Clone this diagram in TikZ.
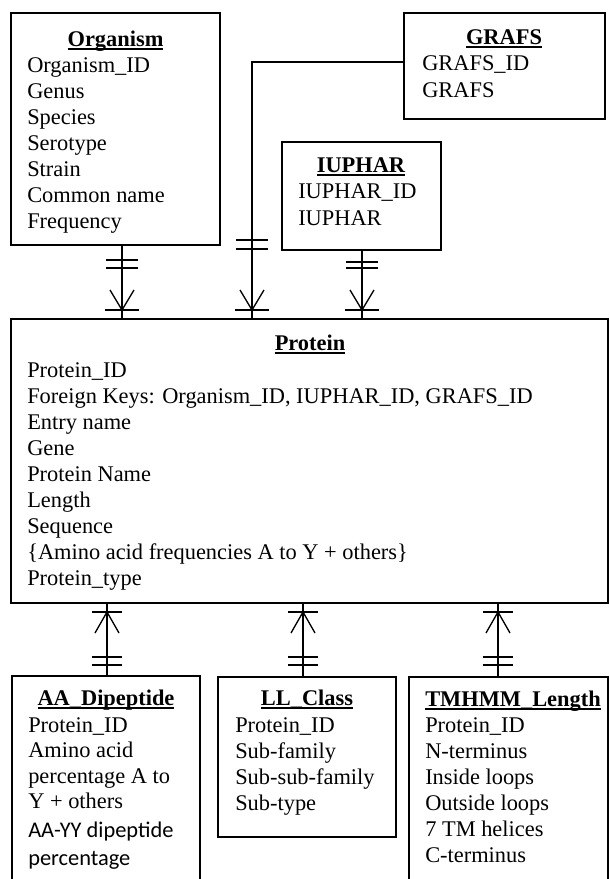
\documentclass[tikz,border=0pt]{standalone}
\usepackage{fontspec}
\setmainfont{Liberation Serif}
\newfontfamily\calibrifont{Carlito}
\usetikzlibrary{fit}
\newcommand{\ulbox}[1]{\setbox0\hbox{#1}\rlap{\vrule height -1.7pt depth 2.8pt width \wd0}\box0}
\newcommand{\topend}[1]{%
  \draw[conn] (#1-17,310) -- (#1+17,310);
  \draw[conn] (#1-12,290) -- (#1,310) -- (#1+12,290);}
\newcommand{\botend}[1]{%
  \draw[conn] (#1-15,612) -- (#1+15,612);
  \draw[conn] (#1-12,633) -- (#1,612) -- (#1+12,633);
  \draw[conn] (#1-15,657) -- (#1+15,657) (#1-15,665) -- (#1+15,665);}
\newcommand{\dbar}[3]{\draw[conn] (#1-16,#2) -- (#1+16,#2) (#1-16,#3) -- (#1+16,#3);}
\begin{document}
\begin{tikzpicture}[x=0.75pt,y=-0.75pt,
  ent/.style={draw, line width=1pt, inner sep=0pt},
  conn/.style={line width=1pt},
  txt/.style={anchor=base west, inner sep=0pt, font=\fontsize{16.8}{20}\selectfont},
  ctxt/.style={anchor=base west, inner sep=0pt, font=\fontsize{16.8}{20}\selectfont\calibrifont},
  ttl/.style={anchor=base, inner sep=0pt, font=\fontsize{16.8}{20}\selectfont\bfseries}]
\useasboundingbox (0,0) rectangle (610,879);
\fill[white] (0,0) rectangle (610,879);
\clip (0,0) rectangle (610,879);

% Entity boxes
\node[ent, fit={(11,13) (220,245)}] (org) {};
\node[ent, fit={(404,13) (605,119)}] (grafs) {};
\node[ent, fit={(282,142) (441,250)}] (iuphar) {};
\node[ent, fit={(11,319) (608,603)}] (prot) {};
\node[ent, fit={(12,676) (200,895)}] (aa) {};
\node[ent, fit={(218,677) (396,837)}] (ll) {};
\node[ent, fit={(409,677) (608,895)}] (tm) {};

% Organism
\node[ttl] (orgT) at (115.5,46) {\ulbox{Organism}};
\node[txt] (o1) at (27,72) {Organism\_ID};
\node[txt] (o2) at (27,98) {Genus};
\node[txt] (o3) at (27,124) {Species};
\node[txt] (o4) at (27,150) {Serotype};
\node[txt] (o5) at (27,176) {Strain};
\node[txt] (o6) at (27,202) {Common name};
\node[txt] (o7) at (27,228) {Frequency};

% GRAFS
\node[ttl] (grT) at (504,44) {\ulbox{GRAFS}};
\node[txt] (g1) at (422,70) {GRAFS\_ID};
\node[txt] (g2) at (422,97) {GRAFS};

% IUPHAR
\node[ttl] (iuT) at (361,172) {\ulbox{IUPHAR}};
\node[txt] (i1) at (298,198) {IUPHAR\_ID};
\node[txt] (i2) at (298,225) {IUPHAR};

% Protein
\node[ttl] (prT) at (310,350) {\ulbox{Protein}};
\node[txt] (p1) at (27,377) {Protein\_ID};
\node[txt] (p2) at (27,403) {Foreign Keys: Organism\_ID, IUPHAR\_ID, GRAFS\_ID};
\node[txt] (p3) at (27,429) {Entry name};
\node[txt] (p4) at (27,455) {Gene};
\node[txt] (p5) at (27,481) {Protein Name};
\node[txt] (p6) at (27,507) {Length};
\node[txt] (p7) at (27,533) {Sequence};
\node[txt] (p8) at (27,559) {\{Amino acid frequencies A to Y + others\}};
\node[txt] (p9) at (27,585) {Protein\_type};

% AA_Dipeptide
\node[ttl] (aaT) at (106,705) {\ulbox{AA\_Dipeptide}};
\node[txt] (a1) at (28,732) {Protein\_ID};
\node[txt] (a2) at (28,757) {Amino acid};
\node[txt] (a3) at (28,783) {percentage A to};
\node[txt] (a4) at (28,808) {Y + others};
\node[ctxt] (a5) at (28,837) {AA-YY dipeptide};
\node[ctxt] (a6) at (28,865) {percentage};

% LL_Class
\node[ttl] (llT) at (307,705) {\ulbox{LL\_Class}};
\node[txt] (l1) at (235,732) {Protein\_ID};
\node[txt] (l2) at (235,758) {Sub-family};
\node[txt] (l3) at (235,784) {Sub-sub-family};
\node[txt] (l4) at (235,810) {Sub-type};

% TMHMM_Length
\node[ttl] (tmT) at (513,706) {\ulbox{TMHMM\_Length}};
\node[txt] (t1) at (425,732) {Protein\_ID};
\node[txt] (t2) at (425,758) {N-terminus};
\node[txt] (t3) at (425,784) {Inside loops};
\node[txt] (t4) at (425,810) {Outside loops};
\node[txt] (t5) at (425,836) {7 TM helices};
\node[txt] (t6) at (425,862) {C-terminus};

% Connector x positions
\coordinate (xo) at (122,0);
\coordinate (xg) at (252,0);
\coordinate (xi) at (362,0);
\coordinate (xa) at (107,0);
\coordinate (xl) at (303,0);
\coordinate (xt) at (498,0);
\coordinate (yg) at (0,62);

% Connectors
\draw[conn] (org.south -| xo) -- (prot.north -| xo);
\draw[conn] (grafs.west |- yg) -| (prot.north -| xg);
\draw[conn] (iuphar.south -| xi) -- (prot.north -| xi);
\draw[conn] (prot.south -| xa) -- (aa.north -| xa);
\draw[conn] (prot.south -| xl) -- (ll.north -| xl);
\draw[conn] (prot.south -| xt) -- (tm.north -| xt);

% Cardinality marks
\dbar{122}{260}{268}
\topend{122}
\dbar{252}{240}{249}
\topend{252}
\dbar{362}{262}{268}
\topend{362}
\botend{107}
\botend{303}
\botend{498}
\end{tikzpicture}
\end{document}
